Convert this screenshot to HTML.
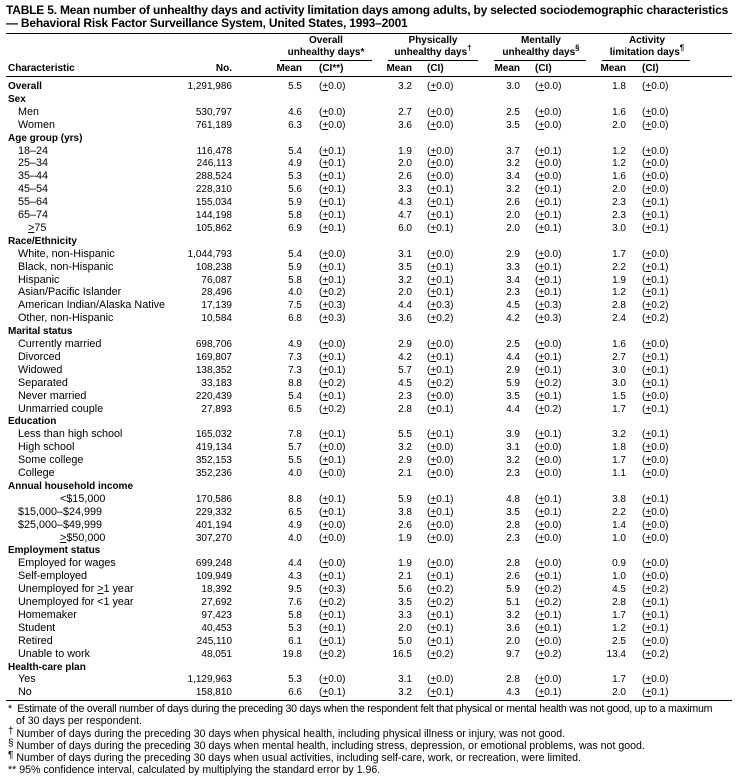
<!DOCTYPE html>
<html><head><meta charset="utf-8"><style>
body{margin:0;background:#fff;width:736px;height:784px;position:relative;font-family:"Liberation Sans",Arial,sans-serif;color:#000;overflow:hidden}
.t{position:absolute;left:6px;font-size:12px;font-weight:bold;white-space:nowrap;letter-spacing:-0.2px}
.hl{position:absolute;height:1px;background:#000}
.gh{position:absolute;font-size:10px;font-weight:bold;text-align:center;line-height:12px}
.r{position:absolute;left:0;width:736px;height:13px;font-size:10px;line-height:13px;white-space:nowrap}
.r span{position:absolute;top:0}
.c{left:8px}
.i{left:18px;font-size:10.8px}
.b{font-weight:bold}
.n{left:132px;width:100px;text-align:right}
.m1{left:262px;width:40px;text-align:right}.c1{left:319px}
.m2{left:372px;width:40px;text-align:right}.c2{left:427px}
.m3{left:480px;width:40px;text-align:right}.c3{left:535px}
.m4{left:586px;width:40px;text-align:right}.c4{left:642px}
.fn{position:absolute;font-size:10.6px;line-height:12px;white-space:nowrap}
.fn .s{font-size:10px;position:relative;top:-3px}
sup{font-size:8px;line-height:0}
</style></head><body>
<div class="t" style="top:3px">TABLE 5. Mean number of unhealthy days and activity limitation days among adults, by selected sociodemographic characteristics</div>
<div class="t" style="top:16px">— Behavioral Risk Factor Surveillance System, United States, 1993–2001</div>
<div class="hl" style="top:33px;left:6px;width:726px"></div>
<div class="gh" style="top:35px;left:280px;width:92px">Overall<br>unhealthy days*</div>
<div class="gh" style="top:35px;left:386px;width:94px">Physically<br>unhealthy days<sup>†</sup></div>
<div class="gh" style="top:35px;left:494px;width:94px">Mentally<br>unhealthy days<sup>§</sup></div>
<div class="gh" style="top:35px;left:600px;width:94px">Activity<br>limitation days<sup>¶</sup></div>
<div class="hl" style="top:60px;left:280px;width:92px"></div>
<div class="hl" style="top:60px;left:388px;width:90px"></div>
<div class="hl" style="top:60px;left:494px;width:92px"></div>
<div class="hl" style="top:60px;left:602px;width:88px"></div>
<div class="r b" style="top:62px"><span class="c">Characteristic</span><span class="n">No.</span><span class="m1">Mean</span><span class="c1">(CI**)</span><span class="m2">Mean</span><span class="c2">(CI)</span><span class="m3">Mean</span><span class="c3">(CI)</span><span class="m4">Mean</span><span class="c4">(CI)</span></div>
<div class="hl" style="top:76px;left:6px;width:726px"></div>

<div class="r" style="top:80px"><span class="c b">Overall</span><span class="n">1,291,986</span><span class="m1">5.5</span><span class="c1">(<u>+</u>0.0)</span><span class="m2">3.2</span><span class="c2">(<u>+</u>0.0)</span><span class="m3">3.0</span><span class="c3">(<u>+</u>0.0)</span><span class="m4">1.8</span><span class="c4">(<u>+</u>0.0)</span></div>
<div class="r" style="top:92.9px"><span class="c b">Sex</span></div>
<div class="r" style="top:105.8px"><span class="i">Men</span><span class="n">530,797</span><span class="m1">4.6</span><span class="c1">(<u>+</u>0.0)</span><span class="m2">2.7</span><span class="c2">(<u>+</u>0.0)</span><span class="m3">2.5</span><span class="c3">(<u>+</u>0.0)</span><span class="m4">1.6</span><span class="c4">(<u>+</u>0.0)</span></div>
<div class="r" style="top:118.7px"><span class="i">Women</span><span class="n">761,189</span><span class="m1">6.3</span><span class="c1">(<u>+</u>0.0)</span><span class="m2">3.6</span><span class="c2">(<u>+</u>0.0)</span><span class="m3">3.5</span><span class="c3">(<u>+</u>0.0)</span><span class="m4">2.0</span><span class="c4">(<u>+</u>0.0)</span></div>
<div class="r" style="top:131.6px"><span class="c b">Age group (yrs)</span></div>
<div class="r" style="top:144.5px"><span class="i">18–24</span><span class="n">116,478</span><span class="m1">5.4</span><span class="c1">(<u>+</u>0.1)</span><span class="m2">1.9</span><span class="c2">(<u>+</u>0.0)</span><span class="m3">3.7</span><span class="c3">(<u>+</u>0.1)</span><span class="m4">1.2</span><span class="c4">(<u>+</u>0.0)</span></div>
<div class="r" style="top:157.4px"><span class="i">25–34</span><span class="n">246,113</span><span class="m1">4.9</span><span class="c1">(<u>+</u>0.1)</span><span class="m2">2.0</span><span class="c2">(<u>+</u>0.0)</span><span class="m3">3.2</span><span class="c3">(<u>+</u>0.0)</span><span class="m4">1.2</span><span class="c4">(<u>+</u>0.0)</span></div>
<div class="r" style="top:170.3px"><span class="i">35–44</span><span class="n">288,524</span><span class="m1">5.3</span><span class="c1">(<u>+</u>0.1)</span><span class="m2">2.6</span><span class="c2">(<u>+</u>0.0)</span><span class="m3">3.4</span><span class="c3">(<u>+</u>0.0)</span><span class="m4">1.6</span><span class="c4">(<u>+</u>0.0)</span></div>
<div class="r" style="top:183.2px"><span class="i">45–54</span><span class="n">228,310</span><span class="m1">5.6</span><span class="c1">(<u>+</u>0.1)</span><span class="m2">3.3</span><span class="c2">(<u>+</u>0.1)</span><span class="m3">3.2</span><span class="c3">(<u>+</u>0.1)</span><span class="m4">2.0</span><span class="c4">(<u>+</u>0.0)</span></div>
<div class="r" style="top:196.1px"><span class="i">55–64</span><span class="n">155,034</span><span class="m1">5.9</span><span class="c1">(<u>+</u>0.1)</span><span class="m2">4.3</span><span class="c2">(<u>+</u>0.1)</span><span class="m3">2.6</span><span class="c3">(<u>+</u>0.1)</span><span class="m4">2.3</span><span class="c4">(<u>+</u>0.1)</span></div>
<div class="r" style="top:209px"><span class="i">65–74</span><span class="n">144,198</span><span class="m1">5.8</span><span class="c1">(<u>+</u>0.1)</span><span class="m2">4.7</span><span class="c2">(<u>+</u>0.1)</span><span class="m3">2.0</span><span class="c3">(<u>+</u>0.1)</span><span class="m4">2.3</span><span class="c4">(<u>+</u>0.1)</span></div>
<div class="r" style="top:221.9px"><span class="i" style="left:28px"><u>&gt;</u>75</span><span class="n">105,862</span><span class="m1">6.9</span><span class="c1">(<u>+</u>0.1)</span><span class="m2">6.0</span><span class="c2">(<u>+</u>0.1)</span><span class="m3">2.0</span><span class="c3">(<u>+</u>0.1)</span><span class="m4">3.0</span><span class="c4">(<u>+</u>0.1)</span></div>
<div class="r" style="top:234.8px"><span class="c b">Race/Ethnicity</span></div>
<div class="r" style="top:247.7px"><span class="i">White, non-Hispanic</span><span class="n">1,044,793</span><span class="m1">5.4</span><span class="c1">(<u>+</u>0.0)</span><span class="m2">3.1</span><span class="c2">(<u>+</u>0.0)</span><span class="m3">2.9</span><span class="c3">(<u>+</u>0.0)</span><span class="m4">1.7</span><span class="c4">(<u>+</u>0.0)</span></div>
<div class="r" style="top:260.6px"><span class="i">Black, non-Hispanic</span><span class="n">108,238</span><span class="m1">5.9</span><span class="c1">(<u>+</u>0.1)</span><span class="m2">3.5</span><span class="c2">(<u>+</u>0.1)</span><span class="m3">3.3</span><span class="c3">(<u>+</u>0.1)</span><span class="m4">2.2</span><span class="c4">(<u>+</u>0.1)</span></div>
<div class="r" style="top:273.5px"><span class="i">Hispanic</span><span class="n">76,087</span><span class="m1">5.8</span><span class="c1">(<u>+</u>0.1)</span><span class="m2">3.2</span><span class="c2">(<u>+</u>0.1)</span><span class="m3">3.4</span><span class="c3">(<u>+</u>0.1)</span><span class="m4">1.9</span><span class="c4">(<u>+</u>0.1)</span></div>
<div class="r" style="top:286.4px"><span class="i">Asian/Pacific Islander</span><span class="n">28,496</span><span class="m1">4.0</span><span class="c1">(<u>+</u>0.2)</span><span class="m2">2.0</span><span class="c2">(<u>+</u>0.1)</span><span class="m3">2.3</span><span class="c3">(<u>+</u>0.1)</span><span class="m4">1.2</span><span class="c4">(<u>+</u>0.1)</span></div>
<div class="r" style="top:299.3px"><span class="i">American Indian/Alaska Native</span><span class="n">17,139</span><span class="m1">7.5</span><span class="c1">(<u>+</u>0.3)</span><span class="m2">4.4</span><span class="c2">(<u>+</u>0.3)</span><span class="m3">4.5</span><span class="c3">(<u>+</u>0.3)</span><span class="m4">2.8</span><span class="c4">(<u>+</u>0.2)</span></div>
<div class="r" style="top:312.2px"><span class="i">Other, non-Hispanic</span><span class="n">10,584</span><span class="m1">6.8</span><span class="c1">(<u>+</u>0.3)</span><span class="m2">3.6</span><span class="c2">(<u>+</u>0.2)</span><span class="m3">4.2</span><span class="c3">(<u>+</u>0.3)</span><span class="m4">2.4</span><span class="c4">(<u>+</u>0.2)</span></div>
<div class="r" style="top:325.1px"><span class="c b">Marital status</span></div>
<div class="r" style="top:338px"><span class="i">Currently married</span><span class="n">698,706</span><span class="m1">4.9</span><span class="c1">(<u>+</u>0.0)</span><span class="m2">2.9</span><span class="c2">(<u>+</u>0.0)</span><span class="m3">2.5</span><span class="c3">(<u>+</u>0.0)</span><span class="m4">1.6</span><span class="c4">(<u>+</u>0.0)</span></div>
<div class="r" style="top:350.9px"><span class="i">Divorced</span><span class="n">169,807</span><span class="m1">7.3</span><span class="c1">(<u>+</u>0.1)</span><span class="m2">4.2</span><span class="c2">(<u>+</u>0.1)</span><span class="m3">4.4</span><span class="c3">(<u>+</u>0.1)</span><span class="m4">2.7</span><span class="c4">(<u>+</u>0.1)</span></div>
<div class="r" style="top:363.8px"><span class="i">Widowed</span><span class="n">138,352</span><span class="m1">7.3</span><span class="c1">(<u>+</u>0.1)</span><span class="m2">5.7</span><span class="c2">(<u>+</u>0.1)</span><span class="m3">2.9</span><span class="c3">(<u>+</u>0.1)</span><span class="m4">3.0</span><span class="c4">(<u>+</u>0.1)</span></div>
<div class="r" style="top:376.7px"><span class="i">Separated</span><span class="n">33,183</span><span class="m1">8.8</span><span class="c1">(<u>+</u>0.2)</span><span class="m2">4.5</span><span class="c2">(<u>+</u>0.2)</span><span class="m3">5.9</span><span class="c3">(<u>+</u>0.2)</span><span class="m4">3.0</span><span class="c4">(<u>+</u>0.1)</span></div>
<div class="r" style="top:389.6px"><span class="i">Never married</span><span class="n">220,439</span><span class="m1">5.4</span><span class="c1">(<u>+</u>0.1)</span><span class="m2">2.3</span><span class="c2">(<u>+</u>0.0)</span><span class="m3">3.5</span><span class="c3">(<u>+</u>0.1)</span><span class="m4">1.5</span><span class="c4">(<u>+</u>0.0)</span></div>
<div class="r" style="top:402.5px"><span class="i">Unmarried couple</span><span class="n">27,893</span><span class="m1">6.5</span><span class="c1">(<u>+</u>0.2)</span><span class="m2">2.8</span><span class="c2">(<u>+</u>0.1)</span><span class="m3">4.4</span><span class="c3">(<u>+</u>0.2)</span><span class="m4">1.7</span><span class="c4">(<u>+</u>0.1)</span></div>
<div class="r" style="top:415.4px"><span class="c b">Education</span></div>
<div class="r" style="top:428.3px"><span class="i">Less than high school</span><span class="n">165,032</span><span class="m1">7.8</span><span class="c1">(<u>+</u>0.1)</span><span class="m2">5.5</span><span class="c2">(<u>+</u>0.1)</span><span class="m3">3.9</span><span class="c3">(<u>+</u>0.1)</span><span class="m4">3.2</span><span class="c4">(<u>+</u>0.1)</span></div>
<div class="r" style="top:441.2px"><span class="i">High school</span><span class="n">419,134</span><span class="m1">5.7</span><span class="c1">(<u>+</u>0.0)</span><span class="m2">3.2</span><span class="c2">(<u>+</u>0.0)</span><span class="m3">3.1</span><span class="c3">(<u>+</u>0.0)</span><span class="m4">1.8</span><span class="c4">(<u>+</u>0.0)</span></div>
<div class="r" style="top:454.1px"><span class="i">Some college</span><span class="n">352,153</span><span class="m1">5.5</span><span class="c1">(<u>+</u>0.1)</span><span class="m2">2.9</span><span class="c2">(<u>+</u>0.0)</span><span class="m3">3.2</span><span class="c3">(<u>+</u>0.0)</span><span class="m4">1.7</span><span class="c4">(<u>+</u>0.0)</span></div>
<div class="r" style="top:467px"><span class="i">College</span><span class="n">352,236</span><span class="m1">4.0</span><span class="c1">(<u>+</u>0.0)</span><span class="m2">2.1</span><span class="c2">(<u>+</u>0.0)</span><span class="m3">2.3</span><span class="c3">(<u>+</u>0.0)</span><span class="m4">1.1</span><span class="c4">(<u>+</u>0.0)</span></div>
<div class="r" style="top:479.9px"><span class="c b">Annual household income</span></div>
<div class="r" style="top:492.8px"><span class="i" style="left:60px">&lt;$15,000</span><span class="n">170,586</span><span class="m1">8.8</span><span class="c1">(<u>+</u>0.1)</span><span class="m2">5.9</span><span class="c2">(<u>+</u>0.1)</span><span class="m3">4.8</span><span class="c3">(<u>+</u>0.1)</span><span class="m4">3.8</span><span class="c4">(<u>+</u>0.1)</span></div>
<div class="r" style="top:505.7px"><span class="i">$15,000–$24,999</span><span class="n">229,332</span><span class="m1">6.5</span><span class="c1">(<u>+</u>0.1)</span><span class="m2">3.8</span><span class="c2">(<u>+</u>0.1)</span><span class="m3">3.5</span><span class="c3">(<u>+</u>0.1)</span><span class="m4">2.2</span><span class="c4">(<u>+</u>0.0)</span></div>
<div class="r" style="top:518.6px"><span class="i">$25,000–$49,999</span><span class="n">401,194</span><span class="m1">4.9</span><span class="c1">(<u>+</u>0.0)</span><span class="m2">2.6</span><span class="c2">(<u>+</u>0.0)</span><span class="m3">2.8</span><span class="c3">(<u>+</u>0.0)</span><span class="m4">1.4</span><span class="c4">(<u>+</u>0.0)</span></div>
<div class="r" style="top:531.5px"><span class="i" style="left:60px"><u>&gt;</u>$50,000</span><span class="n">307,270</span><span class="m1">4.0</span><span class="c1">(<u>+</u>0.0)</span><span class="m2">1.9</span><span class="c2">(<u>+</u>0.0)</span><span class="m3">2.3</span><span class="c3">(<u>+</u>0.0)</span><span class="m4">1.0</span><span class="c4">(<u>+</u>0.0)</span></div>
<div class="r" style="top:544.4px"><span class="c b">Employment status</span></div>
<div class="r" style="top:557.3px"><span class="i">Employed for wages</span><span class="n">699,248</span><span class="m1">4.4</span><span class="c1">(<u>+</u>0.0)</span><span class="m2">1.9</span><span class="c2">(<u>+</u>0.0)</span><span class="m3">2.8</span><span class="c3">(<u>+</u>0.0)</span><span class="m4">0.9</span><span class="c4">(<u>+</u>0.0)</span></div>
<div class="r" style="top:570.2px"><span class="i">Self-employed</span><span class="n">109,949</span><span class="m1">4.3</span><span class="c1">(<u>+</u>0.1)</span><span class="m2">2.1</span><span class="c2">(<u>+</u>0.1)</span><span class="m3">2.6</span><span class="c3">(<u>+</u>0.1)</span><span class="m4">1.0</span><span class="c4">(<u>+</u>0.0)</span></div>
<div class="r" style="top:583.1px"><span class="i">Unemployed for <u>&gt;</u>1 year</span><span class="n">18,392</span><span class="m1">9.5</span><span class="c1">(<u>+</u>0.3)</span><span class="m2">5.6</span><span class="c2">(<u>+</u>0.2)</span><span class="m3">5.9</span><span class="c3">(<u>+</u>0.2)</span><span class="m4">4.5</span><span class="c4">(<u>+</u>0.2)</span></div>
<div class="r" style="top:596px"><span class="i">Unemployed for &lt;1 year</span><span class="n">27,692</span><span class="m1">7.6</span><span class="c1">(<u>+</u>0.2)</span><span class="m2">3.5</span><span class="c2">(<u>+</u>0.2)</span><span class="m3">5.1</span><span class="c3">(<u>+</u>0.2)</span><span class="m4">2.8</span><span class="c4">(<u>+</u>0.1)</span></div>
<div class="r" style="top:608.9px"><span class="i">Homemaker</span><span class="n">97,423</span><span class="m1">5.8</span><span class="c1">(<u>+</u>0.1)</span><span class="m2">3.3</span><span class="c2">(<u>+</u>0.1)</span><span class="m3">3.2</span><span class="c3">(<u>+</u>0.1)</span><span class="m4">1.7</span><span class="c4">(<u>+</u>0.1)</span></div>
<div class="r" style="top:621.8px"><span class="i">Student</span><span class="n">40,453</span><span class="m1">5.3</span><span class="c1">(<u>+</u>0.1)</span><span class="m2">2.0</span><span class="c2">(<u>+</u>0.1)</span><span class="m3">3.6</span><span class="c3">(<u>+</u>0.1)</span><span class="m4">1.2</span><span class="c4">(<u>+</u>0.1)</span></div>
<div class="r" style="top:634.7px"><span class="i">Retired</span><span class="n">245,110</span><span class="m1">6.1</span><span class="c1">(<u>+</u>0.1)</span><span class="m2">5.0</span><span class="c2">(<u>+</u>0.1)</span><span class="m3">2.0</span><span class="c3">(<u>+</u>0.0)</span><span class="m4">2.5</span><span class="c4">(<u>+</u>0.0)</span></div>
<div class="r" style="top:647.6px"><span class="i">Unable to work</span><span class="n">48,051</span><span class="m1">19.8</span><span class="c1">(<u>+</u>0.2)</span><span class="m2">16.5</span><span class="c2">(<u>+</u>0.2)</span><span class="m3">9.7</span><span class="c3">(<u>+</u>0.2)</span><span class="m4">13.4</span><span class="c4">(<u>+</u>0.2)</span></div>
<div class="r" style="top:660.5px"><span class="c b">Health-care plan</span></div>
<div class="r" style="top:673.4px"><span class="i">Yes</span><span class="n">1,129,963</span><span class="m1">5.3</span><span class="c1">(<u>+</u>0.0)</span><span class="m2">3.1</span><span class="c2">(<u>+</u>0.0)</span><span class="m3">2.8</span><span class="c3">(<u>+</u>0.0)</span><span class="m4">1.7</span><span class="c4">(<u>+</u>0.0)</span></div>
<div class="r" style="top:686.3px"><span class="i">No</span><span class="n">158,810</span><span class="m1">6.6</span><span class="c1">(<u>+</u>0.1)</span><span class="m2">3.2</span><span class="c2">(<u>+</u>0.1)</span><span class="m3">4.3</span><span class="c3">(<u>+</u>0.1)</span><span class="m4">2.0</span><span class="c4">(<u>+</u>0.1)</span></div>
<div class="hl" style="top:700px;left:6px;width:726px"></div>

<div class="fn" style="top:703px;left:8px;letter-spacing:-0.25px">* &nbsp;Estimate of the overall number of days during the preceding 30 days when the respondent felt that physical or mental health was not good, up to a maximum</div>
<div class="fn" style="top:715px;left:16px">of 30 days per respondent.</div>
<div class="fn" style="top:728px;left:8px"><span class="s">†</span> Number of days during the preceding 30 days when physical health, including physical illness or injury, was not good.</div>
<div class="fn" style="top:740px;left:8px"><span class="s">§</span> Number of days during the preceding 30 days when mental health, including stress, depression, or emotional problems, was not good.</div>
<div class="fn" style="top:752px;left:8px"><span class="s">¶</span> Number of days during the preceding 30 days when usual activities, including self-care, work, or recreation, were limited.</div>
<div class="fn" style="top:764px;left:8px">** 95% confidence interval, calculated by multiplying the standard error by 1.96.</div>
</body></html>
